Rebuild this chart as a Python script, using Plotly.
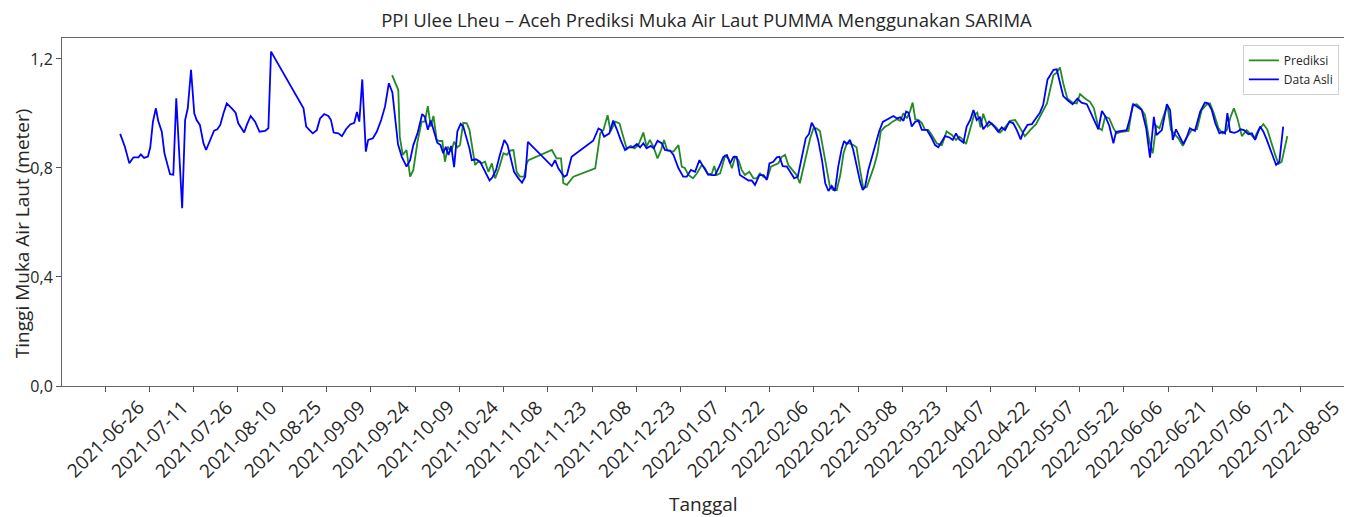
import pandas as pd
import plotly.graph_objects as go

title_text = "PPI Ulee Lheu – Aceh Prediksi Muka Air Laut PUMMA Menggunakan SARIMA"
start_date = "2021-06-26"

# Data Asli (observed) - day offset from start_date, value in metres
asli_days = [5.1, 6.7, 8.2, 9.6, 11.3, 12.1, 13.2, 14.5, 15.3, 16.2, 17.2, 18.0, 19.2, 20.1, 21.3, 22.0, 23.1,
             24.1, 26.1, 27.1, 28.0, 29.1, 30.2, 31.0, 32.1, 33.3, 34.2, 35.6, 36.9, 38.0, 39.0, 40.1, 41.2,
             42.9, 44.2, 45.1, 47.1, 48.0, 49.3, 50.8, 52.3, 54.2, 55.3, 56.2, 67.2, 68.1, 69.4, 70.3, 71.7,
             72.8, 74.2, 75.6, 76.5, 77.4, 79.0, 80.2, 81.6, 83.0, 84.4, 85.3, 86.1, 87.1, 88.3, 89.1, 90.7,
             92.0, 93.5, 94.8, 96.1, 97.3, 99.2, 100.5, 102.1, 103.3, 104.4, 105.8, 107.4, 108.3, 109.3, 110.3,
             111.4, 112.5, 113.6, 114.5, 115.4, 116.3, 117.2, 118.2, 119.3, 120.4, 121.3, 122.3, 123.4, 124.2,
             125.6, 127.0, 128.4, 129.3, 130.2, 131.2, 132.4, 133.7, 135.2, 136.3, 137.2, 138.5, 140.0, 141.2,
             142.3, 143.2, 151.3, 152.4, 153.5, 155.5, 156.4, 158.0, 165.3, 167.1, 168.0, 169.0, 170.8, 172.1,
             173.3, 174.6, 176.1, 177.2, 178.8, 180.1, 181.2, 182.3, 183.4, 184.8, 185.8, 187.1, 188.5, 189.6,
             191.3, 192.5, 194.2, 195.8, 197.0, 198.4, 199.8, 201.3, 202.6, 204.1, 205.5, 206.6, 208.0, 209.4,
             210.6, 211.7, 212.8, 213.9, 215.0, 216.7, 217.9, 219.0, 220.1, 221.6, 223.0, 224.1, 225.0, 226.3,
             227.5, 228.4, 229.5, 230.9, 232.0, 233.4, 234.6, 236.0, 237.3, 238.4, 239.3, 240.4, 241.5, 242.8,
             243.9, 245.0, 246.1, 247.2, 248.3, 249.5, 250.3, 251.2, 252.3, 253.4, 254.5, 255.7, 256.6, 257.4,
             258.5, 259.6, 261.0, 262.2, 263.4, 264.7, 265.8, 267.0, 268.2, 269.3, 270.4, 271.3, 272.1, 273.2,
             274.4, 275.5, 276.6, 278.3, 280.0, 281.1, 282.2, 283.4, 284.5, 286.0, 287.1, 288.2, 289.3, 290.7,
             291.8, 293.0, 294.1, 295.2, 296.3, 297.4, 298.6, 299.4, 300.9, 302.5, 303.7, 304.8, 306.3, 307.6,
             308.8, 310.1, 311.0, 312.4, 313.9, 315.3, 316.6, 317.7, 319.2, 320.1, 321.2, 322.3, 323.4, 324.5,
             326.3, 327.7, 329.3, 330.7, 332.5, 333.6, 334.9, 336.4, 337.6, 338.7, 340.1, 341.5, 342.4, 344.0,
             346.0, 347.1, 348.2, 349.6, 351.1, 352.6, 353.9, 355.2, 356.1, 357.9, 359.6, 360.7, 361.6, 362.7,
             364.1, 365.2, 366.3, 367.4, 369.1, 370.9, 372.5, 373.6, 374.8, 376.0, 377.4, 378.5, 379.3, 380.1,
             381.0, 382.4, 383.5, 384.6, 385.7, 387.2, 388.4, 389.5, 391.2, 392.3, 393.4, 394.6, 395.7, 396.6,
             397.7, 399.0]
asli_vals = [0.925, 0.878, 0.817, 0.839, 0.839, 0.850, 0.837, 0.842, 0.876, 0.970, 1.019, 0.972, 0.933, 0.854,
             0.805, 0.777, 0.775, 1.056, 0.652, 0.976, 1.019, 1.160, 1.001, 0.976, 0.958, 0.891, 0.866, 0.903,
             0.937, 0.942, 0.958, 1.001, 1.037, 1.019, 1.003, 0.964, 0.930, 0.958, 0.991, 0.970, 0.933, 0.936,
             0.946, 1.227, 1.019, 0.952, 0.939, 0.927, 0.939, 0.982, 0.998, 0.991, 0.976, 0.930, 0.927, 0.917,
             0.942, 0.960, 0.966, 1.006, 0.970, 1.125, 0.860, 0.903, 0.909, 0.933, 0.976, 1.025, 1.111, 1.077,
             0.887, 0.841, 0.805, 0.829, 0.884, 0.927, 0.998, 0.988, 0.940, 0.974, 0.934, 0.893, 0.884, 0.854,
             0.878, 0.848, 0.881, 0.803, 0.934, 0.962, 0.952, 0.915, 0.872, 0.829, 0.832, 0.823, 0.793, 0.768,
             0.754, 0.766, 0.793, 0.848, 0.903, 0.884, 0.841, 0.786, 0.762, 0.746, 0.768, 0.896, 0.807, 0.829,
             0.799, 0.768, 0.774, 0.841, 0.900, 0.945, 0.940, 0.915, 0.927, 0.974, 0.942, 0.903, 0.866, 0.876,
             0.876, 0.888, 0.876, 0.891, 0.872, 0.881, 0.872, 0.900, 0.891, 0.866, 0.864, 0.848, 0.799, 0.768,
             0.768, 0.793, 0.786, 0.829, 0.805, 0.778, 0.774, 0.774, 0.805, 0.841, 0.848, 0.817, 0.841, 0.841,
             0.774, 0.762, 0.754, 0.754, 0.738, 0.774, 0.774, 0.756, 0.817, 0.823, 0.839, 0.841, 0.807, 0.805,
             0.786, 0.762, 0.768, 0.841, 0.909, 0.925, 0.966, 0.945, 0.903, 0.829, 0.744, 0.716, 0.734, 0.716,
             0.805, 0.872, 0.899, 0.888, 0.903, 0.866, 0.805, 0.750, 0.719, 0.731, 0.793, 0.835, 0.890, 0.936,
             0.969, 0.976, 0.982, 0.991, 0.982, 0.986, 0.973, 1.007, 1.003, 0.952, 0.970, 0.973, 0.940, 0.940,
             0.909, 0.884, 0.876, 0.896, 0.917, 0.912, 0.903, 0.927, 0.905, 0.893, 0.952, 0.976, 1.013, 0.976,
             0.988, 0.942, 0.958, 0.970, 0.955, 0.933, 0.949, 0.939, 0.970, 0.964, 0.939, 0.905, 0.933, 0.958,
             0.961, 0.982, 1.003, 1.031, 1.125, 1.140, 1.160, 1.162, 1.107, 1.064, 1.046, 1.034, 1.055, 1.040,
             1.034, 1.009, 0.979, 0.942, 1.009, 0.991, 0.955, 0.891, 0.933, 0.936, 0.939, 0.982, 1.034, 1.025,
             1.013, 0.946, 0.838, 0.988, 0.921, 0.939, 1.034, 1.013, 0.903, 0.942, 0.909, 0.888, 0.912, 0.946,
             0.936, 1.007, 1.040, 1.037, 1.013, 0.964, 0.927, 0.933, 0.927, 1.001, 0.933, 0.929, 0.933, 0.942,
             0.939, 0.924, 0.927, 0.903, 0.952, 0.933, 0.905, 0.872, 0.835, 0.811, 0.823, 0.952]

# Prediksi (SARIMA) - day offset from start_date, value in metres
pred_days = [97.2, 98.5, 99.3, 99.8, 100.8, 102.1, 103.3, 104.4, 105.8, 107.2, 108.3, 109.3, 110.3, 111.2,
             112.3, 113.2, 114.2, 115.1, 116.1, 117.2, 118.2, 119.3, 120.2, 121.3, 122.5, 123.4, 124.2, 125.3,
             126.4, 127.5, 128.7, 129.8, 131.0, 132.1, 133.4, 134.9, 136.1, 137.2, 138.3, 139.4, 140.5, 141.9,
             142.8, 143.4, 151.3, 152.9, 154.4, 155.2, 156.4, 158.6, 166.0, 167.7, 168.8, 170.2, 171.2, 172.8,
             174.2, 175.5, 176.7, 178.0, 179.3, 180.6, 182.3, 183.4, 184.5, 185.7, 187.1, 188.3, 189.3, 190.4,
             192.5, 194.2, 195.3, 196.4, 197.6, 199.1, 200.4, 202.1, 203.2, 204.3, 205.5, 206.3, 207.2, 208.3,
             210.0, 211.1, 212.3, 213.4, 214.5, 215.6, 216.7, 218.2, 219.6, 220.7, 221.8, 222.9, 224.3, 225.5,
             226.9, 228.0, 229.2, 230.3, 231.4, 232.9, 234.2, 235.3, 236.6, 237.7, 238.8, 239.9, 241.0, 242.1,
             243.3, 244.4, 245.5, 246.6, 247.8, 249.0, 250.1, 251.2, 252.3, 253.4, 254.5, 255.7, 256.8, 258.0,
             259.3, 260.4, 261.6, 262.7, 264.2, 265.3, 266.7, 268.2, 269.3, 270.4, 271.5, 272.6, 273.5, 274.4,
             275.5, 276.6, 277.7, 278.8, 280.0, 281.7, 283.4, 285.0, 286.8, 288.2, 289.3, 290.1, 291.6, 293.0,
             294.3, 295.4, 296.5, 297.4, 298.9, 300.3, 302.0, 303.1, 304.8, 306.5, 308.2, 309.3, 311.5, 313.3,
             315.3, 316.6, 318.0, 319.0, 320.1, 321.2, 322.3, 323.4, 324.5, 325.9, 327.7, 329.1, 330.2, 331.9,
             333.6, 334.9, 336.4, 337.6, 338.7, 340.1, 341.5, 342.6, 344.4, 346.6, 348.0, 349.4, 350.8, 352.2,
             353.7, 354.8, 356.0, 357.1, 358.4, 359.8, 361.0, 362.1, 363.5, 365.0, 366.5, 368.0, 369.8, 371.4,
             372.9, 374.2, 375.5, 377.1, 378.5, 379.9, 381.2, 382.3, 383.5, 385.0, 386.6, 387.7, 389.2, 390.6,
             392.3, 393.6, 395.1, 396.3, 397.4, 398.5, 400.4]
pred_vals = [1.141, 1.104, 1.086, 0.915, 0.848, 0.866, 0.768, 0.793, 0.896, 0.970, 0.970, 1.027, 0.952, 0.991,
             0.903, 0.899, 0.899, 0.823, 0.878, 0.860, 0.896, 0.876, 0.884, 0.966, 0.964, 0.940, 0.878, 0.811,
             0.823, 0.817, 0.823, 0.786, 0.817, 0.762, 0.799, 0.854, 0.848, 0.864, 0.866, 0.786, 0.768, 0.768,
             0.817, 0.829, 0.866, 0.835, 0.835, 0.744, 0.738, 0.768, 0.799, 0.927, 0.940, 0.994, 0.934, 0.970,
             0.964, 0.915, 0.869, 0.881, 0.872, 0.884, 0.930, 0.878, 0.903, 0.878, 0.835, 0.866, 0.903, 0.864,
             0.860, 0.884, 0.805, 0.799, 0.774, 0.762, 0.780, 0.811, 0.799, 0.774, 0.780, 0.807, 0.774, 0.780,
             0.845, 0.835, 0.799, 0.841, 0.829, 0.793, 0.774, 0.786, 0.762, 0.762, 0.780, 0.768, 0.762, 0.805,
             0.811, 0.817, 0.841, 0.848, 0.811, 0.793, 0.774, 0.744, 0.805, 0.866, 0.909, 0.945, 0.945, 0.936,
             0.866, 0.799, 0.731, 0.719, 0.719, 0.774, 0.854, 0.890, 0.890, 0.884, 0.876, 0.793, 0.725, 0.731,
             0.768, 0.805, 0.854, 0.934, 0.952, 0.958, 0.970, 0.979, 0.973, 1.001, 0.982, 1.007, 1.040, 0.979,
             0.976, 0.966, 0.940, 0.940, 0.921, 0.890, 0.884, 0.934, 0.921, 0.903, 0.915, 0.909, 0.888, 0.939,
             0.994, 1.003, 0.949, 0.999, 0.952, 0.964, 0.946, 0.930, 0.949, 0.973, 0.976, 0.958, 0.917, 0.939,
             0.961, 0.988, 1.019, 1.037, 1.089, 1.141, 1.150, 1.169, 1.111, 1.055, 1.040, 1.037, 1.071, 1.055,
             1.043, 1.019, 0.949, 0.939, 0.988, 0.982, 0.946, 0.927, 0.933, 0.936, 1.030, 1.034, 1.019, 0.994,
             0.897, 0.854, 0.955, 0.946, 0.988, 1.030, 0.939, 0.927, 0.909, 0.881, 0.915, 0.939, 0.942, 1.013,
             1.031, 1.037, 1.001, 0.946, 0.927, 0.939, 0.988, 1.019, 0.982, 0.917, 0.939, 0.927, 0.909, 0.939,
             0.961, 0.942, 0.888, 0.848, 0.815, 0.823, 0.917]

x_ticks = ["2021-06-26", "2021-07-11", "2021-07-26", "2021-08-10", "2021-08-25", "2021-09-09",
           "2021-09-24", "2021-10-09", "2021-10-24", "2021-11-08", "2021-11-23", "2021-12-08",
           "2021-12-23", "2022-01-07", "2022-01-22", "2022-02-06", "2022-02-21", "2022-03-08",
           "2022-03-23", "2022-04-07", "2022-04-22", "2022-05-07", "2022-05-22", "2022-06-06",
           "2022-06-21", "2022-07-06", "2022-07-21", "2022-08-05"]
y_ticks = [0.0, 0.4, 0.8, 1.2]
y_tick_text = ["0,0", "0,4", "0,8", "1,2"]

t0 = pd.Timestamp(start_date)
asli_x = t0 + pd.to_timedelta(asli_days, unit="D")
pred_x = t0 + pd.to_timedelta(pred_days, unit="D")

FONT = "Open Sans, DejaVu Sans, sans-serif"
TXT = "#262626"

fig = go.Figure()
fig.add_trace(go.Scatter(x=pred_x, y=pred_vals, mode="lines", name="Prediksi",
                         line=dict(color="#228B22", width=1.8)))
fig.add_trace(go.Scatter(x=asli_x, y=asli_vals, mode="lines", name="Data Asli",
                         line=dict(color="#0000FF", width=1.8)))

annotations = []
for t in x_ticks:
    annotations.append(dict(x=t, y=0, xref="x", yref="paper", text=t, showarrow=False,
                            textangle=-45, xanchor="center", yanchor="top", yshift=-6,
                            font=dict(family=FONT, size=19, color=TXT)))
annotations.append(dict(x=0.5, y=-0.338, xref="paper", yref="paper", text="Tanggal", showarrow=False,
                        xanchor="center", yanchor="middle", font=dict(family=FONT, size=19, color=TXT)))
annotations.append(dict(x=-0.031, y=0.44, xref="paper", yref="paper", text="Tinggi Muka Air Laut (meter)",
                        showarrow=False, textangle=-90, xanchor="center", yanchor="middle",
                        font=dict(family=FONT, size=19, color=TXT)))

fig.update_layout(
    width=1344, height=509,
    margin=dict(l=54, r=8, t=30, b=131),
    paper_bgcolor="white", plot_bgcolor="white",
    title=dict(text=title_text, x=0.5197, xanchor="center", y=0.975, yanchor="middle",
               font=dict(family=FONT, size=18.5, color=TXT)),
    showlegend=True,
    legend=dict(x=0.996, y=0.98, xanchor="right", yanchor="top", bgcolor="rgba(255,255,255,0.9)",
                bordercolor="#d0d0d0", borderwidth=1, font=dict(family=FONT, size=12, color=TXT),
                tracegroupgap=0, itemwidth=30),
    annotations=annotations,
    xaxis=dict(type="date", range=[t0 - pd.Timedelta(days=14.6), t0 + pd.Timedelta(days=419.6)],
               tickvals=x_ticks, showticklabels=False, ticks="outside", ticklen=5, tickcolor="#555",
               showgrid=False, zeroline=False, showline=True, linecolor="#666", linewidth=1, mirror=True),
    yaxis=dict(range=[0, 1.277], tickvals=y_ticks, ticktext=y_tick_text, ticks="outside", ticklen=5,
               tickcolor="#555", showgrid=False, zeroline=False, showline=True, linecolor="#666",
               linewidth=1, mirror=True, tickfont=dict(family=FONT, size=16, color=TXT)),
)

fig.write_html("out.html")
